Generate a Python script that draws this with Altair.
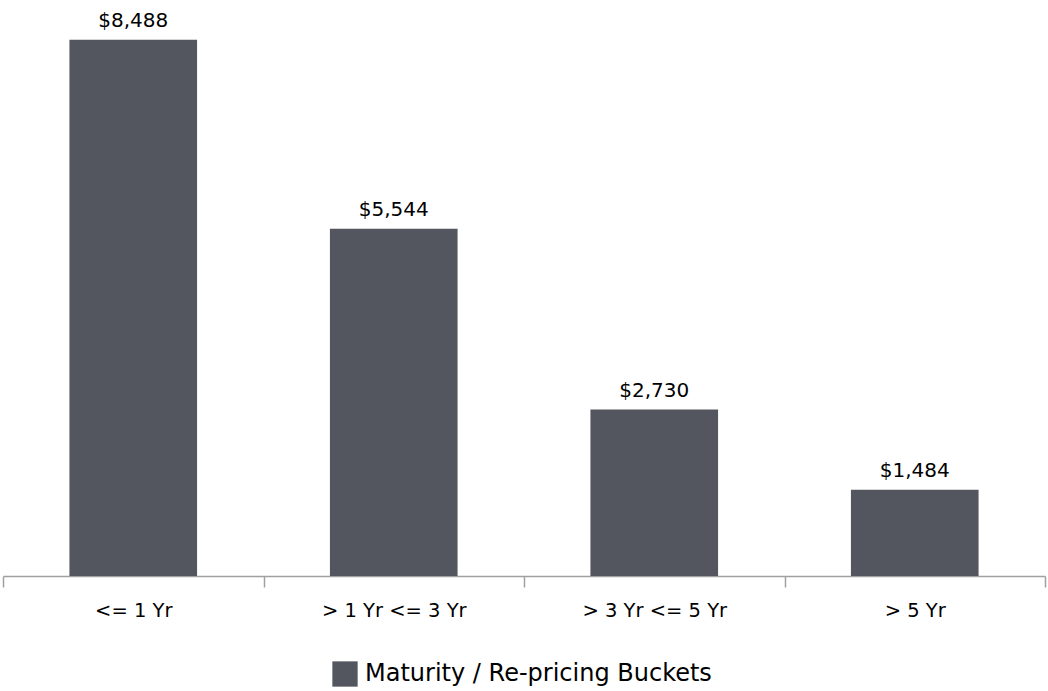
import altair as alt
import pandas as pd

# Maturity / re-pricing buckets (USD, millions)
buckets = ["<= 1 Yr", "> 1 Yr <= 3 Yr", "> 3 Yr <= 5 Yr", "> 5 Yr"]
amounts = [8488, 5544, 2730, 1484]
labels = ["$8,488", "$5,544", "$2,730", "$1,484"]
series_name = "Maturity / Re-pricing Buckets"

BAR_COLOR = "#53565e"
FONT = "DejaVu Sans"

df = pd.DataFrame({
    "bucket": buckets,
    "amount": amounts,
    "label": labels,
    "series": [series_name] * len(buckets),
})

x_enc = alt.X(
    "bucket:N",
    sort=buckets,
    title=None,
    scale=alt.Scale(paddingInner=0, paddingOuter=0),
    axis=alt.Axis(
        labelAngle=0,
        labelFontSize=19.5,
        labelFont=FONT,
        labelColor="#000000",
        labelPadding=14,
        tickBand="extent",
        tickSize=11,
        tickColor="#a0a0a0",
        tickWidth=1.5,
        domainColor="#a0a0a0",
        domainWidth=1.5,
        grid=False,
    ),
)

y_scale = alt.Scale(domain=[140, 8950], nice=False, zero=False)

bars = alt.Chart(df).mark_bar(clip=True, width=alt.RelativeBandSize(0.49)).encode(
    x=x_enc,
    y=alt.Y("amount:Q", scale=y_scale, axis=None),
    color=alt.Color(
        "series:N",
        scale=alt.Scale(domain=[series_name], range=[BAR_COLOR]),
        legend=alt.Legend(
            title=None,
            orient="none",
            legendX=329,
            legendY=651,
            symbolType="square",
            symbolSize=640,
            symbolStrokeWidth=0,
            symbolOpacity=1,
            labelFontSize=24,
            labelFont=FONT,
            labelColor="#000000",
            labelOffset=7,
            labelLimit=0,
        ),
    ),
)

text = alt.Chart(df).mark_text(
    baseline="alphabetic",
    dy=-13,
    fontSize=20,
    font=FONT,
    color="#000000",
).encode(
    x=alt.X("bucket:N", sort=buckets),
    y=alt.Y("amount:Q", scale=y_scale),
    text="label:N",
)

chart = (
    alt.layer(bars, text)
    .properties(
        width=1042,
        height=566,
        background="#ffffff",
        autosize=alt.AutoSizeParams(type="none"),
        padding={"left": 3, "top": 10, "right": 3, "bottom": 115},
    )
    .configure_view(strokeWidth=0, stroke="transparent")
)

chart.save("out.html", embed_options={"renderer": "svg", "actions": False})
